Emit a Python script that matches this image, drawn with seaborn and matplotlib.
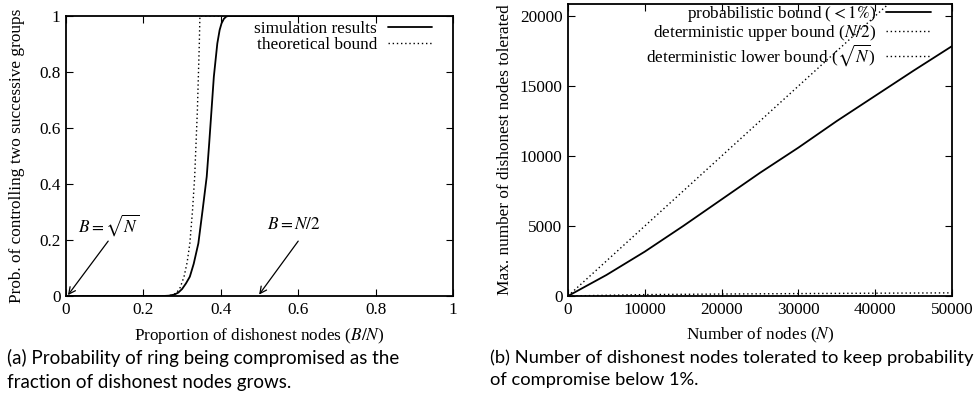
import numpy as np
import pandas as pd
import matplotlib
matplotlib.use("Agg")
import matplotlib.pyplot as plt
import seaborn as sns

# ---------------- data ----------------
# (a) probability of controlling two successive groups vs B/N
sim_x = [0.0, 0.20, 0.25, 0.265, 0.28, 0.29, 0.30, 0.31, 0.32, 0.33, 0.342, 0.353, 0.3636,
         0.370, 0.376, 0.382, 0.391, 0.397, 0.402, 0.408, 0.414, 0.419, 0.45, 1.0]
sim_y = [0.0, 0.0, 0.0, 0.001, 0.005, 0.012, 0.025, 0.045, 0.069, 0.115, 0.188, 0.307, 0.426,
         0.545, 0.664, 0.783, 0.902, 0.95, 0.974, 0.99, 0.998, 1.0, 1.0, 1.0]
theo_x = [0.0, 0.25, 0.27, 0.285, 0.295, 0.305, 0.313, 0.320, 0.327, 0.3325, 0.336, 0.3395,
          0.342, 0.3445, 0.346, 0.40, 1.0]
theo_y = [0.0, 0.0, 0.002, 0.01, 0.03, 0.069, 0.12, 0.188, 0.307, 0.426, 0.545, 0.664,
          0.783, 0.902, 1.0, 1.0, 1.0]

# (b) dishonest nodes tolerated vs N
n_nodes = [0, 5000, 10000, 15000, 20000, 25000, 30000, 35000, 40000, 45000, 50000]
prob_bound = [0, 1500, 3170, 5000, 6900, 8800, 10600, 12500, 14300, 16100, 17850]
upper_n = [0, 50000]
upper_bound = [0, 25000]
lower_n = [0, 10000, 20000, 30000, 40000, 50000]
lower_bound = [0, 100, 141, 173, 200, 224]

labels_a = ["simulation results", "theoretical bound"]
labels_b = [r"probabilistic bound ($< 1\%$)", r"deterministic upper bound ($N/2$)",
            r"deterministic lower bound ($\sqrt{N}$)"]

# ---------------- style ----------------
sns.set_style("ticks")
plt.rcParams["font.family"] = ["Liberation Serif", "DejaVu Serif"]
plt.rcParams["mathtext.fontset"] = "stix"
plt.rcParams["xtick.direction"] = "in"
plt.rcParams["ytick.direction"] = "in"
plt.rcParams["xtick.top"] = True
plt.rcParams["ytick.right"] = True
plt.rcParams["xtick.major.size"] = 5
plt.rcParams["ytick.major.size"] = 5
plt.rcParams["axes.linewidth"] = 1.3
plt.rcParams["axes.edgecolor"] = "black"
plt.rcParams["xtick.color"] = "black"
plt.rcParams["ytick.color"] = "black"
plt.rcParams["text.color"] = "black"
plt.rcParams["axes.labelcolor"] = "black"

FS = 12.4
fig = plt.figure(figsize=(9.79, 4.01), dpi=100)
ax1 = fig.add_axes([66 / 979, 105 / 401, 387 / 979, 280 / 401])
ax2 = fig.add_axes([568 / 979, 105 / 401, 384 / 979, 292 / 401])

dotted = (0, (1, 2))

# ---------------- (a) ----------------
df_sim = pd.DataFrame({"x": sim_x, "y": sim_y})
df_theo = pd.DataFrame({"x": theo_x, "y": theo_y})
sns.lineplot(data=df_sim, x="x", y="y", ax=ax1, color="black", lw=1.3,
             estimator=None, sort=False, label=labels_a[0])
sns.lineplot(data=df_theo, x="x", y="y", ax=ax1, color="black", lw=1.0,
             estimator=None, sort=False, label=labels_a[1], linestyle=dotted)
ax1.set_xlim(0, 1)
ax1.set_ylim(0, 1)
ax1.set_xticks([0, 0.2, 0.4, 0.6, 0.8, 1])
ax1.set_xticklabels(["0", "0.2", "0.4", "0.6", "0.8", "1"])
ax1.set_yticks([0, 0.2, 0.4, 0.6, 0.8, 1])
ax1.set_yticklabels(["0", "0.2", "0.4", "0.6", "0.8", "1"])
ax1.tick_params(labelsize=FS, pad=4)
ax1.set_xlabel(r"Proportion of dishonest nodes ($B/N$)", fontsize=FS, labelpad=6)
ax1.set_ylabel("Prob. of controlling two successive groups", fontsize=FS, labelpad=10)
ax1.legend(loc="upper right", frameon=False, markerfirst=False, fontsize=FS,
           handlelength=2.6, handletextpad=0.6, labelspacing=0.0,
           borderaxespad=0.0, borderpad=0.3, bbox_to_anchor=(0.96, 1.0))

arrow = dict(arrowstyle="->", color="black", lw=0.9, mutation_scale=12,
             shrinkA=0, shrinkB=0)
ax1.annotate("", xy=(0.005, 0.003), xytext=(0.109, 0.196), arrowprops=arrow)
ax1.text(0.03, 0.255, r"$B = \sqrt{N}$", fontsize=FS, va="center", ha="left")
ax1.annotate("", xy=(0.499, 0.005), xytext=(0.60, 0.196), arrowprops=arrow)
ax1.text(0.519, 0.255, r"$B = N/2$", fontsize=FS, va="center", ha="left")

# ---------------- (b) ----------------
df_p = pd.DataFrame({"N": n_nodes, "B": prob_bound})
df_u = pd.DataFrame({"N": upper_n, "B": upper_bound})
df_l = pd.DataFrame({"N": lower_n, "B": lower_bound})
sns.lineplot(data=df_p, x="N", y="B", ax=ax2, color="black", lw=1.3,
             estimator=None, sort=False, label=labels_b[0])
sns.lineplot(data=df_u, x="N", y="B", ax=ax2, color="black", lw=1.0,
             estimator=None, sort=False, label=labels_b[1], linestyle=dotted)
sns.lineplot(data=df_l, x="N", y="B", ax=ax2, color="black", lw=1.0,
             estimator=None, sort=False, label=labels_b[2], linestyle=dotted)
ax2.set_xlim(0, 50000)
ax2.set_ylim(0, 20860)
ax2.set_xticks([0, 10000, 20000, 30000, 40000, 50000])
ax2.set_xticklabels(["0", "10000", "20000", "30000", "40000", "50000"])
ax2.set_yticks([0, 5000, 10000, 15000, 20000])
ax2.set_yticklabels(["0", "5000", "10000", "15000", "20000"])
ax2.tick_params(labelsize=FS, pad=4)
ax2.set_xlabel(r"Number of nodes ($N$)", fontsize=FS, labelpad=6)
ax2.set_ylabel("Max. number of dishonest nodes tolerated", fontsize=FS, labelpad=5)
ax2.legend(loc="upper right", frameon=False, markerfirst=False, fontsize=FS,
           handlelength=2.6, handletextpad=0.6, labelspacing=-0.05,
           borderaxespad=0.0, borderpad=0.0, bbox_to_anchor=(0.945, 1.0))

# ---------------- captions ----------------
cap_font = ["Lato", "DejaVu Sans"]
fig.text(7 / 979, 1 - 349 / 401,
         "(a) Probability of ring being compromised as the\nfraction of dishonest nodes grows.",
         fontsize=13.5, family=cap_font, va="top", ha="left", linespacing=1.5)
fig.text(490 / 979, 1 - 349 / 401,
         "(b) Number of dishonest nodes tolerated to keep probability\nof compromise below 1%.",
         fontsize=13.2, family=cap_font, va="top", ha="left", linespacing=1.53)

fig.savefig("out.png", dpi=100)
